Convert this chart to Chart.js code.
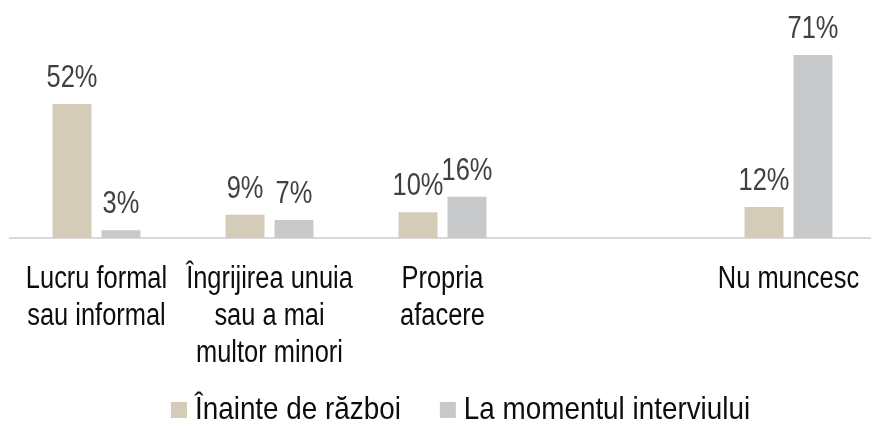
<!DOCTYPE html>
<html lang="ro">
<head>
  <meta charset="UTF-8" />
  <title>Ocupare înainte de război și acum</title>
  <script src="https://cdn.jsdelivr.net/npm/chart.js"></script>
  <style>
    * { box-sizing: border-box; margin: 0; padding: 0; }
    body { background: #fff; overflow: hidden; }
    .wrap { position: relative; width: 876px; height: 421px; }
  </style>
</head>
<body>
  <div class="wrap">
    <canvas id="chart" width="876" height="421"></canvas>
  </div>

  <script>
    const categories = [
      ["Lucru formal", "sau informal"],
      ["Îngrijirea unuia", "sau a mai", "multor minori"],
      ["Propria", "afacere"],
      "",
      "Nu muncesc"
    ];
    const seriesNames = ["Înainte de război", "La momentul interviului"];
    const beforeWar = [52, 9, 10, null, 12];
    const atInterview = [3, 7, 16, null, 71];
    const colors = ["#D4CCB8", "#C8C9CB"];

    const FONT = "'Liberation Sans', Arial, sans-serif";
    const NARROW = 0.82; // fake Arial Narrow by squeezing Liberation Sans

    function narrowText(ctx, text, x, y, sx) {
      ctx.save();
      ctx.translate(x, y);
      ctx.scale(sx, 1);
      ctx.fillText(text, 0, 0);
      ctx.restore();
    }

    // value labels above the bars
    const valueLabels = {
      id: "valueLabels",
      afterDatasetsDraw(chart) {
        const ctx = chart.ctx;
        ctx.save();
        ctx.font = "31px " + FONT;
        ctx.fillStyle = "#404040";
        ctx.textAlign = "center";
        ctx.textBaseline = "alphabetic";
        chart.data.datasets.forEach((ds, i) => {
          chart.getDatasetMeta(i).data.forEach((bar, j) => {
            const v = ds.data[j];
            if (v === null) return;
            narrowText(ctx, v + "%", bar.x, bar.y - 17, NARROW);
          });
        });
        ctx.restore();
      }
    };

    // category labels, placed at the x scale's tick positions
    const tickLabels = {
      id: "tickLabels",
      afterDraw(chart) {
        const ctx = chart.ctx, xs = chart.scales.x;
        ctx.save();
        ctx.font = "31px " + FONT;
        ctx.fillStyle = "#0d0d0d";
        ctx.textAlign = "center";
        ctx.textBaseline = "alphabetic";
        chart.data.labels.forEach((lab, i) => {
          const lines = Array.isArray(lab) ? lab : [lab];
          const x = xs.getPixelForTick(i);
          lines.forEach((ln, k) => narrowText(ctx, ln, x, xs.top + 50 + k * 37, NARROW));
        });
        ctx.restore();
      }
    };

    // legend along the bottom
    const bottomLegend = {
      id: "bottomLegend",
      afterDraw(chart) {
        const ctx = chart.ctx;
        const sx = 0.87, base = 419;
        let x = 171;
        ctx.save();
        ctx.font = "32px " + FONT;
        ctx.textAlign = "left";
        ctx.textBaseline = "alphabetic";
        chart.data.datasets.forEach(ds => {
          ctx.fillStyle = ds.backgroundColor;
          ctx.fillRect(x, 402, 16, 16);
          ctx.fillStyle = "#0d0d0d";
          narrowText(ctx, ds.label, x + 24, base, sx);
          x += 24 + ctx.measureText(ds.label).width * sx + 39;
        });
        ctx.restore();
      }
    };

    const chart = new Chart(document.getElementById("chart"), {
      type: "bar",
      data: {
        labels: categories,
        datasets: [
          { label: seriesNames[0], data: beforeWar, backgroundColor: colors[0] },
          { label: seriesNames[1], data: atInterview, backgroundColor: colors[1] }
        ]
      },
      options: {
        responsive: false,
        animation: false,
        categoryPercentage: 0.566,
        barPercentage: 0.796,
        layout: { padding: { left: 10, right: 1, top: 10, bottom: 0 } },
        plugins: { legend: { display: false }, tooltip: { enabled: false } },
        scales: {
          x: {
            grid: { display: false, drawTicks: false },
            border: { display: true, color: "#D9D9D9", width: 2 },
            ticks: { display: false },
            afterFit(scale) { scale.height = 183; }
          },
          y: { display: false, min: 0, max: 88.5 }
        }
      },
      plugins: [valueLabels, tickLabels, bottomLegend]
    });
  </script>
</body>
</html>
